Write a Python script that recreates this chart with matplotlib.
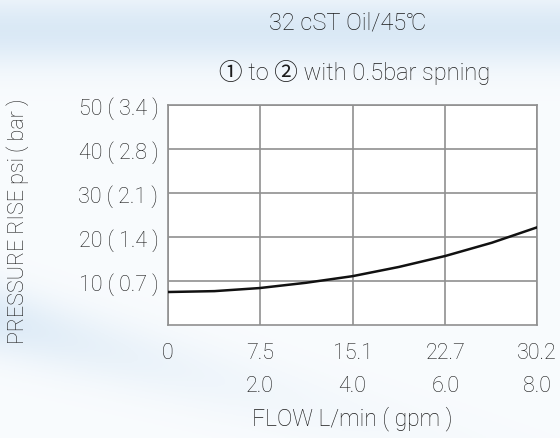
import matplotlib
matplotlib.use("Agg")
import matplotlib.pyplot as plt
import numpy as np

# curve: flow (L/min) vs pressure rise (psi)
flow_lpm = [0.0, 3.8, 7.5, 11.3, 15.1, 18.9, 22.7, 26.5, 30.2]
rise_psi = [7.5, 7.7, 8.4, 9.6, 11.1, 13.2, 15.7, 18.7, 22.2]

x_ticks = [0, 7.5, 15.1, 22.7, 30.2]
x_labels = ["0", "7.5\n2.0", "15.1\n4.0", "22.7\n6.0", "30.2\n8.0"]
y_ticks = [10, 20, 30, 40, 50]
y_labels = ["10 ( 0.7 )", "20 ( 1.4 )", "30 ( 2.1 )", "40 ( 2.8 )", "50 ( 3.4 )"]

plt.rcParams["font.family"] = ["Roboto", "Noto Sans CJK SC", "DejaVu Sans"]
plt.rcParams["font.weight"] = "light"
plt.rcParams["axes.labelweight"] = "light"
TXT = "#1c1c1c"
FS = 15.5

fig = plt.figure(figsize=(5.6, 4.39), dpi=100)

# soft bluish background
bg = fig.add_axes([0, 0, 1, 1], zorder=-10)
yy, xx = np.mgrid[0:1:200j, 0:1:256j]
top = np.exp(-((yy - 0.93) / 0.08) ** 2)
swirl = np.exp(-(((yy - 0.25) + 0.35 * (xx - 0.05)) / 0.08) ** 2) * np.exp(-xx / 0.35)
shade = np.clip(0.6 * top + 0.55 * swirl + 0.12, 0, 1)
img = np.ones((200, 256, 3))
tint = np.array([0.80, 0.88, 0.95])
img = img * (1 - shade[..., None]) + tint * shade[..., None]
bg.imshow(img, origin="lower", extent=[0, 1, 0, 1], aspect="auto")
bg.set_axis_off()

ax = fig.add_axes([0.3, 0.2574, 0.659, 0.501])
ax.set_facecolor("white")
ax.plot(flow_lpm, rise_psi, color="#111111", lw=1.8, zorder=3)
ax.set_xlim(0, 30.2)
ax.set_ylim(0, 50)
ax.set_xticks(x_ticks)
ax.set_xticklabels(x_labels, fontsize=FS, linespacing=1.75, color=TXT)
ax.set_yticks(y_ticks)
ax.set_yticklabels(y_labels, fontsize=FS, color=TXT)
ax.tick_params(length=0, pad=7)
ax.tick_params(axis="x", pad=12)
ax.grid(True, color="#909090", lw=1.2)
for s in ax.spines.values():
    s.set_color("#909090")
    s.set_linewidth(1.2)

ax.set_xlabel("FLOW L/min ( gpm )", fontsize=16.5, color=TXT, labelpad=7)
fig.text(0.032, 0.497, "PRESSURE RISE psi ( bar )", rotation=90, fontsize=FS,
         color=TXT, ha="center", va="center")
fig.text(0.62, 0.948, "32 cST Oil/45℃", fontsize=17, color=TXT,
         ha="center", va="center")
fig.text(0.634, 0.835, "① to ② with 0.5bar spning", fontsize=17, color=TXT,
         ha="center", va="center")

fig.savefig("out.png", dpi=100)
